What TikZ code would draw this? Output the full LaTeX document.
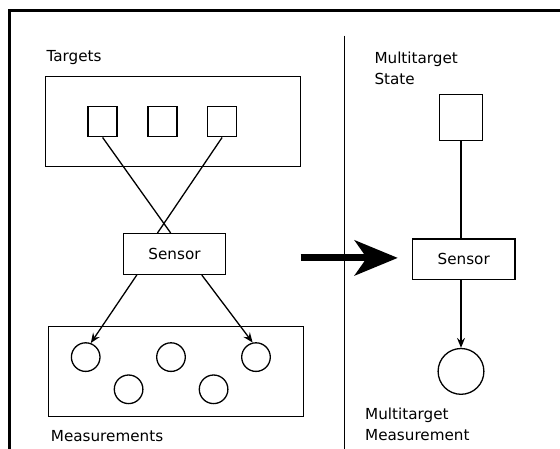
\documentclass[tikz,border=0pt]{standalone}
\usepackage{fontspec}
\setmainfont{DejaVu Sans}
\usetikzlibrary{arrows.meta,calc}
\begin{document}
\begin{tikzpicture}[x=1pt,y=-1pt,
  every node/.style={font=\fontsize{15.2}{20.4}\selectfont},
  line/.style={line width=1.3pt},
  group/.style={draw,line width=1.3pt,inner sep=0pt},
  target/.style={draw,line width=1.3pt,inner sep=0pt,minimum width=29pt,minimum height=30.4pt},
  meas/.style={draw,circle,line width=1.3pt,inner sep=0pt,minimum size=28.6pt},
  sensorbox/.style={draw,line width=1.3pt,inner sep=0pt,minimum width=102.5pt,minimum height=40.7pt},
  label/.style={anchor=west,inner sep=0pt,align=left},
  tip/.style={-{Stealth[length=10pt,width=8pt,inset=3.5pt]}}]
\useasboundingbox (0,0) rectangle (560,448);
% outer frame (open towards right and bottom)
\draw[line width=3pt] (9,460) -- (9,10.5) -- (580,10.5);
% divider
\draw[line width=1.1pt] (344.6,35.7) -- (344.6,460.7);

% left: targets
\node[label] (tlab) at (46.4,58) {Targets};
\node[group,minimum width=255pt,minimum height=90pt] (tbox) at (173.2,121.8) {};
\node[target] (t1) at (102.6,121.6) {};
\node[target] (t2) at (162.5,121.6) {};
\node[target] (t3) at (222.1,121.6) {};
\node[sensorbox] (sen) at (174.5,254) {Sensor};
\draw[line] (t1.south) -- ([xshift=-3.8pt]sen.north);
\draw[line] (t3.south) -- ([xshift=-17pt]sen.north);

% left: measurements
\node[group,minimum width=255pt,minimum height=90pt] (mbox) at (175.7,371.8) {};
\node[meas] (c1) at (85.7,357.1) {};
\node[meas] (c2) at (171,357.1) {};
\node[meas] (c3) at (256,357.1) {};
\node[meas] (c4) at (128.6,389.3) {};
\node[meas] (c5) at (213.6,389.3) {};
\draw[line,tip] ([xshift=-37.7pt]sen.south) -- (c1.70);
\draw[line,tip] ([xshift=27.3pt]sen.south) -- (c3.103);
\node[label] (mlab) at (50.7,436.4) {Measurements};

% transition arrow
\coordinate (astart) at (300.7,257.9);
\node[sensorbox] (sen2) at (463.7,259.4) {Sensor};
\draw[line width=7pt,-{Stealth[length=43pt,width=35pt,inset=12pt]},shorten >=14pt] (astart) -- (astart -| sen2.west);

% right: multitarget model
\node[label] (slab) at (374.3,68.4) {Multitarget\\State};
\node[target,minimum width=42.8pt,minimum height=45.8pt] (st) at (461,117.5) {};
\node[meas,minimum size=45.8pt] (mm) at (461,371.4) {};
\draw[line] (st.south) -- (st.south |- sen2.north);
\draw[line,tip] (mm.north |- sen2.south) -- (mm.north);
\node[label] (mmlab) at (365,424.3) {Multitarget\\Measurement};
\end{tikzpicture}
\end{document}
